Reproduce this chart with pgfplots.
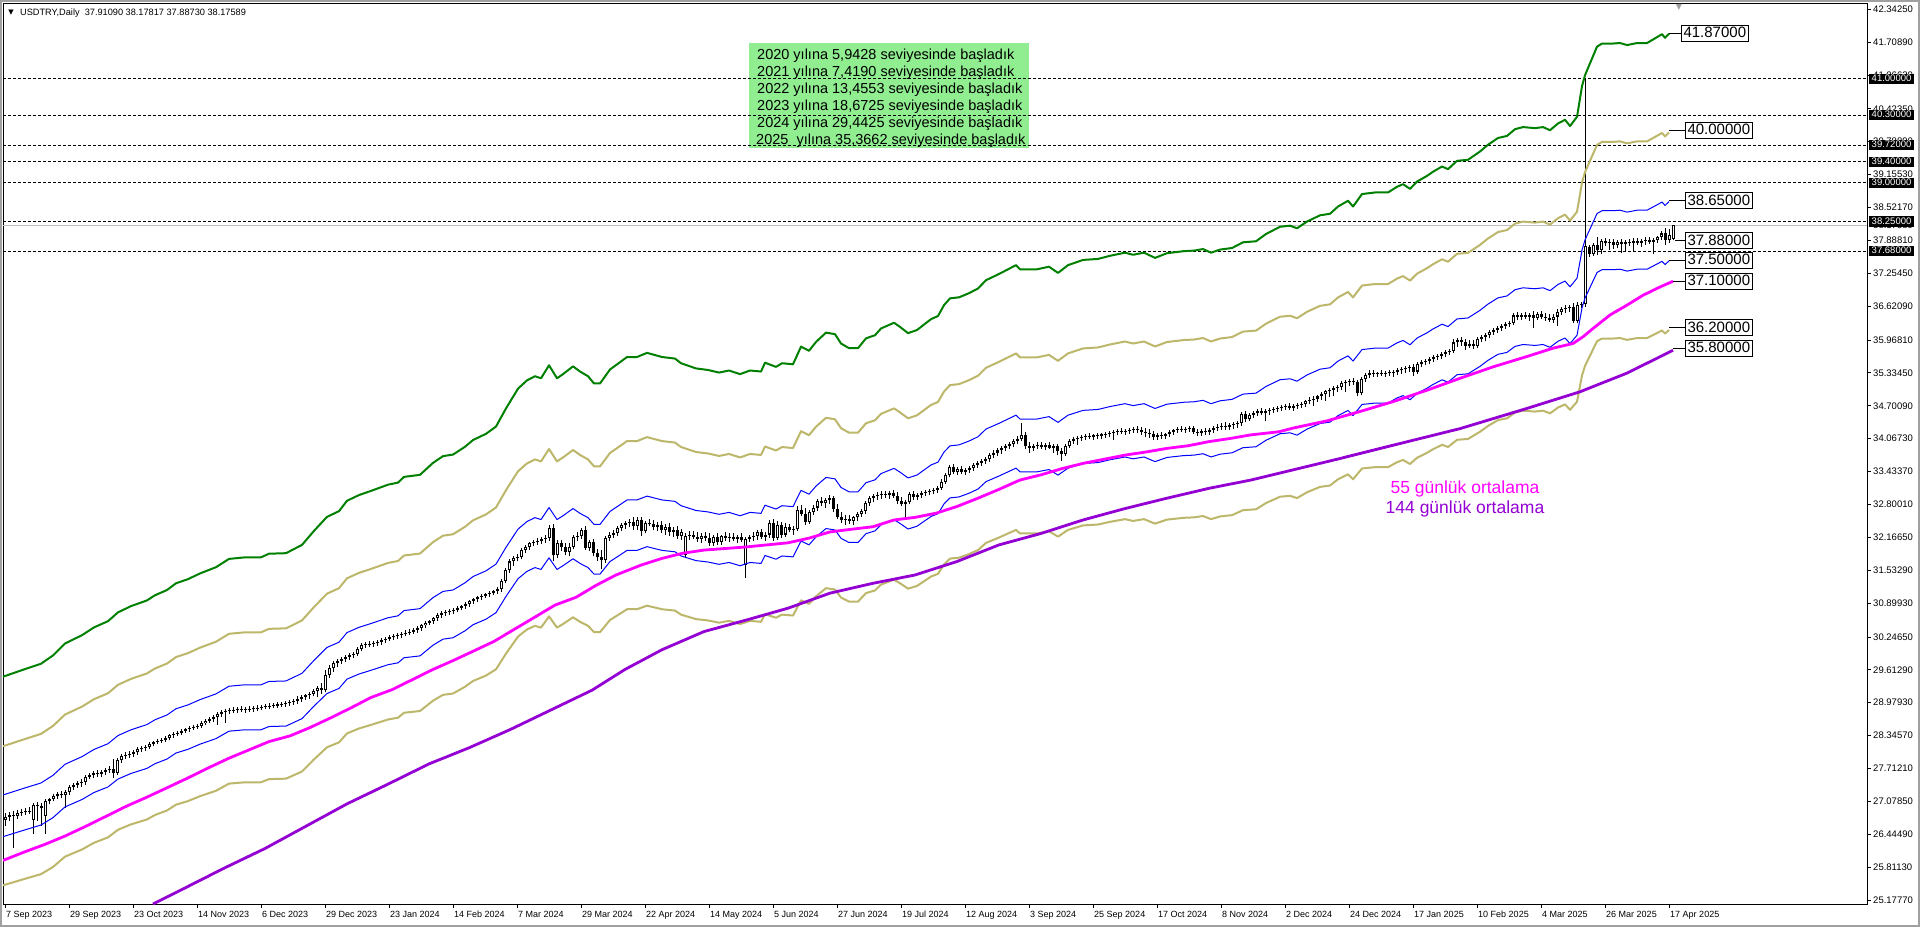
\documentclass[border=0pt]{standalone}
\usepackage{fontspec}
\setmainfont{Liberation Sans}
\newfontfamily\dejavu{DejaVu Sans}
\usepackage{pgfplots}
\usepackage{pgfplotstable}
\pgfplotsset{compat=1.18}

\definecolor{mtgreen}{RGB}{0,128,0}
\definecolor{mtkhaki}{RGB}{189,183,107}
\definecolor{mtviolet}{RGB}{148,0,211}
\definecolor{mtmagenta}{RGB}{255,0,255}
\definecolor{notegreen}{RGB}{144,238,144}
\definecolor{framegray}{RGB}{160,160,160}
\definecolor{bidgray}{RGB}{192,192,192}

% daily candles: bar index, open, high, low, close
\pgfplotstableread{
i o h l c
0 26.72 26.86 26.60 26.78
1 26.78 26.88 26.70 26.82
2 26.82 26.90 26.18 26.80
3 26.80 26.92 26.74 26.86
4 26.86 26.93 26.80 26.87
5 26.87 26.95 26.82 26.90
6 26.90 26.96 26.84 26.88
7 26.72 27.05 26.45 27.00
8 27.00 27.06 26.70 26.98
9 26.98 27.05 26.60 26.95
10 26.80 27.12 26.45 27.08
11 27.08 27.15 27.02 27.12
12 27.12 27.22 27.08 27.18
13 27.18 27.26 27.12 27.22
14 27.22 27.28 27.15 27.20
15 27.20 27.30 26.95 27.25
16 27.25 27.40 27.20 27.36
17 27.36 27.44 27.30 27.40
18 27.40 27.47 27.34 27.43
19 27.43 27.50 27.36 27.45
20 27.45 27.58 27.40 27.55
21 27.55 27.62 27.50 27.58
22 27.58 27.66 27.52 27.62
23 27.62 27.68 27.55 27.60
24 27.60 27.68 27.54 27.64
25 27.64 27.72 27.58 27.68
26 27.68 27.75 27.62 27.70
27 27.70 27.90 27.52 27.62
28 27.62 27.92 27.58 27.88
29 27.88 28.00 27.82 27.95
30 27.95 28.02 27.90 27.98
31 27.98 28.04 27.92 28.00
32 28.00 28.06 27.94 28.02
33 28.02 28.12 27.98 28.08
34 28.08 28.14 28.03 28.10
35 28.10 28.16 28.05 28.12
36 28.12 28.22 28.08 28.18
37 28.18 28.25 28.14 28.22
38 28.22 28.28 28.18 28.24
39 28.24 28.30 28.20 28.26
40 28.26 28.34 28.22 28.30
41 28.30 28.38 28.26 28.35
42 28.35 28.42 28.30 28.38
43 28.38 28.44 28.34 28.40
44 28.40 28.47 28.36 28.44
45 28.44 28.50 28.40 28.47
46 28.47 28.53 28.42 28.49
47 28.49 28.55 28.45 28.51
48 28.51 28.57 28.47 28.53
49 28.53 28.62 28.49 28.58
50 28.58 28.66 28.54 28.63
51 28.63 28.70 28.58 28.66
52 28.66 28.74 28.60 28.70
53 28.70 28.80 28.55 28.76
54 28.76 28.84 28.70 28.80
55 28.80 28.86 28.58 28.82
56 28.82 28.88 28.76 28.83
57 28.83 28.89 28.78 28.84
58 28.84 28.90 28.79 28.85
59 28.85 28.91 28.80 28.84
60 28.84 28.90 28.78 28.86
61 28.86 28.92 28.80 28.85
62 28.85 28.91 28.80 28.87
63 28.87 28.93 28.82 28.88
64 28.88 28.94 28.83 28.90
65 28.90 28.96 28.85 28.91
66 28.91 28.97 28.86 28.92
67 28.92 28.98 28.87 28.93
68 28.93 28.99 28.88 28.94
69 28.94 29.00 28.89 28.96
70 28.96 29.02 28.90 28.98
71 28.98 29.04 28.92 29.00
72 29.00 29.06 28.94 29.02
73 29.02 29.10 28.96 29.06
74 29.06 29.12 29.00 29.09
75 29.09 29.15 29.03 29.12
76 29.12 29.18 29.06 29.15
77 29.15 29.24 29.10 29.20
78 29.20 29.30 29.08 29.27
79 29.27 29.35 29.15 29.22
80 29.22 29.60 29.18 29.52
81 29.52 29.70 29.45 29.64
82 29.64 29.78 29.58 29.75
83 29.75 29.82 29.66 29.79
84 29.79 29.86 29.72 29.82
85 29.82 29.90 29.76 29.86
86 29.86 29.93 29.80 29.89
87 29.89 29.96 29.84 29.92
88 29.92 30.05 29.88 30.02
89 30.02 30.12 29.98 30.09
90 30.09 30.15 30.04 30.10
91 30.10 30.16 30.05 30.11
92 30.11 30.17 30.06 30.12
93 30.12 30.19 30.07 30.15
94 30.15 30.22 30.10 30.18
95 30.18 30.25 30.13 30.21
96 30.21 30.28 30.16 30.24
97 30.24 30.30 30.19 30.26
98 30.26 30.33 30.21 30.28
99 30.28 30.35 30.23 30.31
100 30.31 30.38 30.26 30.33
101 30.33 30.40 30.28 30.35
102 30.35 30.42 30.30 30.38
103 30.38 30.46 30.33 30.42
104 30.42 30.50 30.37 30.47
105 30.47 30.55 30.42 30.52
106 30.52 30.58 30.47 30.55
107 30.55 30.64 30.50 30.61
108 30.61 30.70 30.56 30.67
109 30.67 30.74 30.62 30.70
110 30.70 30.76 30.65 30.72
111 30.72 30.78 30.67 30.74
112 30.74 30.80 30.69 30.77
113 30.77 30.84 30.72 30.81
114 30.81 30.87 30.76 30.84
115 30.84 30.91 30.79 30.88
116 30.88 30.96 30.83 30.93
117 30.93 31.00 30.88 30.97
118 30.97 31.04 30.92 31.01
119 31.01 31.08 30.96 31.04
120 31.04 31.10 30.99 31.07
121 31.07 31.13 31.02 31.10
122 31.10 31.16 31.05 31.13
123 31.13 31.20 31.08 31.17
124 31.17 31.36 31.12 31.32
125 31.32 31.58 31.28 31.54
126 31.54 31.74 31.48 31.70
127 31.70 31.80 31.62 31.76
128 31.76 31.84 31.70 31.79
129 31.79 31.96 31.74 31.92
130 31.92 32.02 31.86 31.98
131 31.98 32.08 31.92 32.05
132 32.05 32.12 32.00 32.08
133 32.08 32.15 32.02 32.10
134 32.10 32.18 32.04 32.14
135 32.14 32.22 32.06 32.16
136 32.16 32.40 32.10 32.34
137 32.34 32.42 31.70 31.82
138 31.82 32.12 31.76 32.05
139 32.05 32.12 31.90 31.98
140 31.98 32.06 31.82 31.88
141 31.88 32.05 31.80 31.98
142 31.98 32.22 31.94 32.18
143 32.18 32.26 32.10 32.20
144 32.20 32.35 32.14 32.30
145 32.30 32.38 31.92 31.96
146 31.96 32.12 31.90 32.08
147 32.08 32.14 31.80 31.86
148 31.86 31.95 31.70 31.78
149 31.78 31.92 31.55 31.72
150 31.72 32.20 31.68 32.16
151 32.16 32.26 32.10 32.22
152 32.22 32.30 32.16 32.25
153 32.25 32.38 32.20 32.35
154 32.35 32.44 32.28 32.40
155 32.40 32.48 32.32 32.44
156 32.44 32.52 32.36 32.46
157 32.46 32.55 32.30 32.38
158 32.38 32.55 32.30 32.50
159 32.50 32.56 32.20 32.28
160 32.28 32.48 32.24 32.45
161 32.45 32.52 32.38 32.42
162 32.42 32.50 32.30 32.36
163 32.36 32.46 32.28 32.40
164 32.40 32.48 32.24 32.30
165 32.30 32.42 32.22 32.36
166 32.36 32.44 32.20 32.26
167 32.26 32.36 32.18 32.30
168 32.30 32.38 32.14 32.20
169 32.20 32.32 32.12 32.26
170 31.82 32.24 31.76 32.20
171 32.20 32.28 32.12 32.22
172 32.22 32.28 32.14 32.18
173 32.18 32.26 32.08 32.14
174 32.14 32.24 32.06 32.20
175 32.20 32.26 32.10 32.16
176 32.16 32.24 32.00 32.06
177 32.06 32.22 32.00 32.18
178 32.18 32.24 32.02 32.08
179 32.08 32.22 32.02 32.20
180 32.20 32.26 32.10 32.16
181 32.16 32.24 32.08 32.18
182 32.18 32.24 32.10 32.14
183 32.14 32.22 32.06 32.18
184 32.18 32.24 32.08 32.12
185 31.64 32.18 31.38 32.14
186 32.14 32.22 32.08 32.18
187 32.18 32.26 32.10 32.20
188 32.20 32.30 32.12 32.26
189 32.26 32.32 32.14 32.18
190 32.18 32.26 32.10 32.22
191 32.22 32.50 32.16 32.44
192 32.44 32.52 32.10 32.16
193 32.16 32.48 32.12 32.40
194 32.40 32.46 32.16 32.22
195 32.22 32.44 32.18 32.36
196 32.36 32.42 32.26 32.30
197 32.30 32.38 32.22 32.32
198 32.32 32.76 32.28 32.70
199 32.70 32.78 32.58 32.62
200 32.62 32.74 32.40 32.46
201 32.46 32.70 32.42 32.66
202 32.66 32.78 32.60 32.74
203 32.74 32.90 32.68 32.86
204 32.86 32.94 32.76 32.82
205 32.82 32.92 32.74 32.88
206 32.88 32.98 32.80 32.92
207 32.92 32.96 32.66 32.72
208 32.72 32.80 32.52 32.56
209 32.56 32.66 32.44 32.50
210 32.50 32.60 32.40 32.52
211 32.52 32.60 32.42 32.48
212 32.48 32.58 32.40 32.55
213 32.55 32.66 32.48 32.62
214 32.62 32.72 32.56 32.68
215 32.68 32.86 32.62 32.82
216 32.82 32.96 32.76 32.92
217 32.92 33.00 32.84 32.96
218 32.96 33.04 32.88 32.98
219 32.98 33.06 32.90 33.00
220 33.00 33.06 32.92 32.98
221 32.98 33.06 32.90 33.02
222 33.02 33.08 32.92 32.96
223 32.96 33.04 32.80 32.86
224 32.86 32.94 32.76 32.80
225 32.80 32.88 32.56 32.84
226 32.84 33.04 32.80 33.00
227 33.00 33.06 32.88 32.94
228 32.94 33.02 32.88 32.98
229 32.98 33.06 32.92 33.02
230 33.02 33.08 32.96 33.04
231 33.04 33.10 32.98 33.06
232 33.06 33.12 33.00 33.08
233 33.08 33.16 33.02 33.12
234 33.12 33.28 33.08 33.24
235 33.24 33.40 33.20 33.36
236 33.36 33.56 33.32 33.52
237 33.52 33.58 33.38 33.42
238 33.42 33.52 33.36 33.48
239 33.48 33.54 33.38 33.42
240 33.42 33.50 33.36 33.46
241 33.46 33.54 33.40 33.50
242 33.50 33.60 33.44 33.56
243 33.56 33.64 33.50 33.60
244 33.60 33.68 33.54 33.64
245 33.64 33.72 33.58 33.68
246 33.68 33.80 33.62 33.76
247 33.76 33.84 33.70 33.80
248 33.80 33.88 33.74 33.84
249 33.84 33.92 33.78 33.88
250 33.88 33.96 33.82 33.92
251 33.92 34.00 33.86 33.96
252 33.96 34.06 33.90 34.02
253 34.02 34.12 33.96 34.06
254 34.06 34.37 34.02 34.14
255 34.14 34.20 33.86 33.92
256 33.92 34.00 33.80 33.88
257 33.88 33.96 33.82 33.92
258 33.92 34.00 33.86 33.94
259 33.94 34.00 33.86 33.90
260 33.90 33.98 33.84 33.94
261 33.94 34.00 33.86 33.88
262 33.88 33.96 33.80 33.92
263 33.92 33.96 33.76 33.82
264 33.82 33.88 33.64 33.78
265 33.78 33.96 33.74 33.92
266 33.92 34.06 33.88 34.02
267 34.02 34.10 33.96 34.06
268 34.06 34.12 33.94 34.08
269 34.08 34.14 34.02 34.10
270 34.10 34.16 34.04 34.12
271 34.12 34.18 34.06 34.10
272 34.10 34.16 34.04 34.13
273 34.13 34.18 34.06 34.12
274 34.12 34.18 34.06 34.15
275 34.15 34.20 34.08 34.16
276 34.16 34.22 34.10 34.18
277 34.18 34.24 34.04 34.20
278 34.20 34.26 34.14 34.22
279 34.22 34.28 34.16 34.20
280 34.20 34.26 34.14 34.22
281 34.22 34.28 34.16 34.24
282 34.24 34.30 34.18 34.26
283 34.26 34.32 34.18 34.24
284 34.24 34.30 34.14 34.20
285 34.20 34.28 34.10 34.18
286 34.18 34.26 34.08 34.16
287 34.16 34.22 34.04 34.10
288 34.10 34.18 34.04 34.14
289 34.14 34.20 34.06 34.12
290 34.12 34.18 34.06 34.16
291 34.16 34.24 34.10 34.20
292 34.20 34.26 34.14 34.24
293 34.24 34.30 34.18 34.26
294 34.26 34.32 34.20 34.24
295 34.24 34.30 34.18 34.26
296 34.26 34.32 34.20 34.28
297 34.28 34.32 34.16 34.20
298 34.20 34.26 34.12 34.18
299 34.18 34.26 34.12 34.22
300 34.22 34.28 34.14 34.20
301 34.20 34.28 34.14 34.24
302 34.24 34.32 34.18 34.28
303 34.28 34.34 34.22 34.30
304 34.30 34.36 34.24 34.32
305 34.32 34.38 34.24 34.30
306 34.30 34.36 34.24 34.33
307 34.33 34.38 34.26 34.34
308 34.34 34.40 34.28 34.36
309 34.36 34.58 34.32 34.54
310 34.54 34.60 34.38 34.44
311 34.44 34.56 34.40 34.52
312 34.52 34.60 34.46 34.56
313 34.56 34.64 34.50 34.60
314 34.60 34.66 34.52 34.56
315 34.56 34.64 34.40 34.60
316 34.60 34.66 34.52 34.62
317 34.62 34.68 34.56 34.64
318 34.64 34.70 34.58 34.66
319 34.66 34.72 34.60 34.68
320 34.68 34.74 34.62 34.70
321 34.70 34.76 34.62 34.66
322 34.66 34.74 34.60 34.70
323 34.70 34.76 34.64 34.72
324 34.72 34.78 34.66 34.74
325 34.74 34.82 34.68 34.80
326 34.80 34.86 34.74 34.82
327 34.82 34.88 34.70 34.84
328 34.84 34.90 34.78 34.88
329 34.88 34.96 34.82 34.92
330 34.92 35.00 34.80 34.98
331 34.98 35.04 34.86 35.00
332 35.00 35.08 34.88 35.04
333 35.04 35.10 34.96 35.06
334 35.06 35.18 35.00 35.14
335 35.14 35.20 34.96 35.16
336 35.16 35.22 35.08 35.18
337 35.18 35.24 35.10 35.16
338 35.16 35.20 34.88 34.94
339 34.94 35.26 34.90 35.22
340 35.22 35.34 35.16 35.30
341 35.30 35.38 35.24 35.34
342 35.34 35.38 35.26 35.32
343 35.32 35.36 35.26 35.33
344 35.33 35.38 35.27 35.32
345 35.32 35.37 35.26 35.34
346 35.34 35.38 35.28 35.33
347 35.33 35.38 35.26 35.35
348 35.35 35.42 35.30 35.38
349 35.38 35.44 35.32 35.40
350 35.40 35.46 35.34 35.42
351 35.42 35.48 35.36 35.44
352 35.44 35.50 35.28 35.36
353 35.36 35.54 35.32 35.50
354 35.50 35.58 35.44 35.54
355 35.54 35.60 35.48 35.56
356 35.56 35.64 35.50 35.60
357 35.60 35.68 35.54 35.64
358 35.64 35.70 35.58 35.66
359 35.66 35.74 35.60 35.70
360 35.70 35.78 35.64 35.74
361 35.74 35.80 35.68 35.76
362 35.76 35.98 35.72 35.92
363 35.92 36.00 35.84 35.96
364 35.96 36.02 35.86 35.92
365 35.92 35.98 35.78 35.86
366 35.86 35.96 35.82 35.90
367 35.90 35.96 35.80 35.86
368 35.86 36.02 35.82 35.98
369 35.98 36.06 35.92 36.02
370 36.02 36.10 35.94 36.06
371 36.06 36.16 36.00 36.12
372 36.12 36.20 36.06 36.16
373 36.16 36.24 36.10 36.20
374 36.20 36.28 36.14 36.24
375 36.24 36.32 36.18 36.28
376 36.28 36.34 36.22 36.30
377 36.30 36.48 36.26 36.44
378 36.44 36.50 36.36 36.42
379 36.42 36.48 36.36 36.44
380 36.44 36.50 36.38 36.42
381 36.42 36.48 36.34 36.44
382 36.44 36.52 36.20 36.40
383 36.40 36.50 36.36 36.46
384 36.46 36.52 36.38 36.42
385 36.42 36.48 36.34 36.40
386 36.40 36.46 36.32 36.36
387 36.36 36.46 36.30 36.42
388 36.42 36.56 36.24 36.50
389 36.50 36.60 36.44 36.56
390 36.56 36.64 36.48 36.58
391 36.58 36.64 36.50 36.60
392 36.60 36.68 36.30 36.34
393 36.34 36.70 36.30 36.64
394 36.64 36.70 36.58 36.66
395 36.66 41.00 36.60 37.78
396 37.76 37.80 37.56 37.62
397 37.62 37.84 37.58 37.80
398 37.80 37.96 37.60 37.70
399 37.70 37.92 37.62 37.88
400 37.88 37.94 37.78 37.84
401 37.84 37.92 37.70 37.86
402 37.86 37.92 37.72 37.80
403 37.80 37.90 37.74 37.86
404 37.86 37.92 37.64 37.82
405 37.82 37.90 37.68 37.86
406 37.86 37.92 37.78 37.84
407 37.84 37.94 37.66 37.88
408 37.88 37.94 37.80 37.84
409 37.84 37.92 37.76 37.88
410 37.88 37.96 37.80 37.90
411 37.90 37.96 37.82 37.86
412 37.86 37.94 37.62 37.90
413 37.90 37.98 37.84 37.96
414 37.96 38.06 37.90 38.02
415 38.02 38.12 37.80 37.90
416 37.90 38.10 37.84 38.00
417 37.9109 38.17817 37.8873 38.17589
}\candles

% upper envelope (+10%) as read; the other bands are the same average at +5/-5 and +1.5/-1.5 %
\pgfplotstableread{
i g
-0.5 29.48
4.75 29.62
9 29.73
12 29.89
15 30.12
19.25 30.28
22.25 30.43
25.75 30.55
28.25 30.72
31.5 30.84
35.5 30.95
37.5 31.05
40.5 31.15
42.75 31.28
45.75 31.36
48.75 31.47
52.75 31.59
56 31.75
60 31.78
64 31.78
66 31.85
70.25 31.86
74.25 32.02
77.25 32.29
80.5 32.56
83.5 32.67
85.5 32.87
88.5 32.98
91.5 33.06
95.75 33.18
98.25 33.22
99.75 33.33
103.75 33.37
107 33.60
109.5 33.73
112 33.76
115 33.91
117 34.04
120.25 34.16
122.75 34.30
125.25 34.65
128.25 35.03
130.5 35.19
132.5 35.27
134 35.23
136 35.48
138 35.23
139.5 35.31
142 35.46
143.75 35.36
145.75 35.27
147.25 35.13
148.75 35.13
151.25 35.40
153.75 35.54
155.5 35.64
158 35.64
160.5 35.72
164.25 35.64
167.5 35.61
169 35.52
172.75 35.42
175.75 35.39
178.5 35.34
181 35.38
183.75 35.31
186.25 35.38
189 35.36
190 35.53
192.75 35.45
194.25 35.52
197 35.50
199 35.84
201 35.76
202.75 35.93
205.25 36.11
207.5 36.08
209 35.90
211 35.81
213.25 35.81
215.25 36.00
217.5 36.06
219 36.19
222.25 36.30
223.75 36.22
225.75 36.10
228 36.16
231.5 36.37
233.25 36.43
234.75 36.64
236.25 36.77
238.5 36.79
241 36.87
243.25 36.96
245.25 37.12
248.5 37.24
252.75 37.41
253.75 37.33
258 37.33
261 37.38
263.25 37.26
265.75 37.41
269.5 37.51
273.25 37.53
276.25 37.59
280 37.65
282 37.61
284.75 37.65
287.5 37.55
290.5 37.64
294.75 37.68
297.25 37.69
299.5 37.72
301.5 37.65
303.75 37.71
306.75 37.74
309.5 37.85
312.75 37.87
315.25 38.01
318.75 38.15
321.25 38.17
323 38.12
325.5 38.25
328.75 38.37
331.25 38.40
333.25 38.54
335.75 38.65
337 38.54
339.25 38.78
342.5 38.81
345.75 38.81
348 38.92
349.5 38.97
351.25 38.88
353 39.02
355.5 39.13
357 39.21
359.25 39.31
360.75 39.26
363 39.42
365.75 39.44
368.75 39.60
370.75 39.73
373.25 39.86
375.5 39.90
377.5 40.03
379.5 40.07
382.5 40.05
384.5 40.07
386.25 40.01
388.25 40.14
390 40.21
391.25 40.09
393 40.27
394.25 40.86
395 41.07
396.25 41.30
398 41.62
399.25 41.68
402 41.68
403.75 41.69
405.5 41.65
408 41.69
410.5 41.69
412.5 41.78
414.25 41.86
415 41.79
416 41.87
}\envelope

% 55-day average
\pgfplotstableread{
i m
-0.5 25.94
4.75 26.10
10 26.25
15 26.41
20.25 26.60
25.25 26.79
30.5 26.99
35.5 27.16
40.5 27.34
45.75 27.53
50.75 27.72
56 27.91
61 28.07
66 28.23
71.25 28.34
76.25 28.50
81.5 28.69
86.5 28.88
91.5 29.08
96.75 29.23
101.75 29.42
107 29.62
112 29.79
117 29.97
122.25 30.16
127.25 30.39
132.5 30.63
137.5 30.86
142.75 31.01
147.75 31.24
152.75 31.44
159 31.63
164.25 31.76
169.5 31.86
174.75 31.92
180 31.95
185.25 31.98
190.5 32.02
195.75 32.06
201 32.15
206.25 32.27
211.5 32.32
217 32.37
222.25 32.50
227.5 32.55
232.75 32.63
238 32.76
243.25 32.92
248.5 33.09
253.75 33.27
259 33.37
264.25 33.49
269.5 33.59
274.75 33.67
280 33.75
285.25 33.81
290.5 33.88
295.75 33.93
301 34.01
306.25 34.07
311.5 34.14
318.5 34.20
322 34.27
330.5 34.41
338.75 34.59
347 34.78
355.5 35.00
363.75 35.23
372 35.45
380.5 35.65
387 35.81
392 35.90
394.5 36.03
397 36.19
401.25 36.45
405.5 36.64
409.5 36.83
413.75 36.99
417 37.10
}\maFast

% 144-day average
\pgfplotstableread{
i m
37 25.10
44.75 25.40
54.75 25.79
65 26.17
75.25 26.60
85.5 27.03
95.75 27.41
106 27.80
116 28.11
126.25 28.46
136.5 28.84
146.75 29.22
155 29.62
164.25 30.00
174.75 30.35
185.25 30.57
195.75 30.80
206.25 31.09
217 31.28
227.5 31.44
238 31.70
248.5 32.02
259 32.24
269.5 32.50
280 32.72
290.5 32.92
301 33.11
311.5 33.27
318.5 33.40
333 33.67
347 33.94
363.75 34.26
380.5 34.65
393.75 34.97
397 35.07
405.5 35.33
417 35.77
}\maSlow

% candle segments collected into three jump-separated paths (wicks, bodies, hollow insides)
\def\wickpts{}
\def\bodypts{}
\def\hollowpts{}
\pgfplotstablegetrowsof{\candles}
\pgfmathtruncatemacro\lastrow{\pgfplotsretval-1}
\pgfplotsforeachungrouped \r in {0,...,\lastrow}{%
  \pgfplotstablegetelem{\r}{i}\of\candles\let\ci\pgfplotsretval
  \pgfplotstablegetelem{\r}{o}\of\candles\let\co\pgfplotsretval
  \pgfplotstablegetelem{\r}{h}\of\candles\let\ch\pgfplotsretval
  \pgfplotstablegetelem{\r}{l}\of\candles\let\cl\pgfplotsretval
  \pgfplotstablegetelem{\r}{c}\of\candles\let\cc\pgfplotsretval
  \edef\wickpts{\wickpts (\ci,\cl) (\ci,\ch) (\ci,nan)}%
  \pgfmathsetmacro\bmid{(\co+\cc)/2}%
  \pgfmathsetmacro\bhalf{max(abs(\cc-\co)/2,0.01)}%
  \pgfmathsetmacro\blo{\bmid-\bhalf}%
  \pgfmathsetmacro\bhi{\bmid+\bhalf}%
  \edef\bodypts{\bodypts (\ci,\blo) (\ci,\bhi) (\ci,nan)}%
  \pgfmathtruncatemacro\isbull{(\cc-\co)>0.045}%
  \ifnum\isbull=1
    \pgfmathsetmacro\hlo{\co+0.02}%
    \pgfmathsetmacro\hhi{\cc-0.02}%
    \edef\hollowpts{\hollowpts (\ci,\hlo) (\ci,\hhi) (\ci,nan)}%
  \fi
}

\pgfplotsset{
  hline/.style={black, line width=1bp, dash pattern=on 3bp off 2bp, forget plot},
  conn/.style={black, line width=1bp, forget plot},
}
\tikzset{
  hlbox/.style={fill=black, text=white, anchor=west, inner xsep=2.5bp, inner ysep=0.6bp,
    text height=7.2bp, text depth=1.8bp, font=\fontsize{9.5bp}{10bp}\selectfont},
  pricebox/.style={draw=black, line width=1bp, fill=white, anchor=west, inner xsep=2bp,
    inner ysep=1.2bp, text height=11bp, text depth=2.5bp, font=\fontsize{15bp}{16bp}\selectfont},
  noteline/.style={anchor=west, inner sep=0pt, font=\fontsize{14.5bp}{17bp}\selectfont},
}

\begin{document}
\begin{tikzpicture}
\useasboundingbox (0,0) rectangle (1920bp,927bp);
\fill[white] (0,0) rectangle (1920bp,927bp);
\draw[framegray, line width=2bp] (1bp,1bp) rectangle (1919bp,926bp);

% note box
\fill[notegreen] (749bp,779bp) rectangle (1029bp,884bp);
\node[noteline] at (757bp,871bp) {2020 yılına 5,9428 seviyesinde başladık};
\node[noteline] at (757bp,854bp) {2021 yılına 7,4190 seviyesinde başladık};
\node[noteline] at (757bp,837bp) {2022 yılına 13,4553 seviyesinde başladık};
\node[noteline] at (757bp,820bp) {2023 yılına 18,6725 seviyesinde başladık};
\node[noteline] at (757bp,803bp) {2024 yılına 29,4425 seviyesinde başladık};
\node[noteline] at (756bp,786bp) {2025\ \ yılına 35,3662 seviyesinde başladık};

\begin{axis}[
  at={(3bp,23bp)}, anchor=south west,
  scale only axis, width=1864bp, height=900bp,
  xmin=-0.5, xmax=465.5, ymin=25.1006, ymax=42.4418,
  axis line style={black, line width=1bp},
  clip mode=individual,
  tick align=outside, major tick length=4bp,
  tick style={black, line width=0.8bp},
  xtick pos=bottom, ytick pos=right, yticklabel pos=right,
  xtick={0,16,...,416},
  xticklabels={7 Sep 2023,29 Sep 2023,23 Oct 2023,14 Nov 2023,6 Dec 2023,29 Dec 2023,23 Jan 2024,14 Feb 2024,7 Mar 2024,29 Mar 2024,22 Apr 2024,14 May 2024,5 Jun 2024,27 Jun 2024,19 Jul 2024,12 Aug 2024,3 Sep 2024,25 Sep 2024,17 Oct 2024,8 Nov 2024,2 Dec 2024,24 Dec 2024,17 Jan 2025,10 Feb 2025,4 Mar 2025,26 Mar 2025,17 Apr 2025},
  ytick={25.1777,25.8113,26.4449,27.0785,27.7121,28.3457,28.9793,29.6129,30.2465,30.8993,31.5329,32.1665,32.8001,33.4337,34.0673,34.7009,35.3345,35.9681,36.6209,37.2545,37.8881,38.5217,39.1553,39.7889,40.4235,41.0662,41.7089,42.3425},
  yticklabels={25.17770,25.81130,26.44490,27.07850,27.71210,28.34570,28.97930,29.61290,30.24650,30.89930,31.53290,32.16650,32.80010,33.43370,34.06730,34.70090,35.33450,35.96810,36.62090,37.25450,37.88810,38.52170,39.15530,39.78890,40.42350,41.06620,41.70890,42.34250},
  xticklabel style={anchor=north west, inner sep=0pt, xshift=1bp, yshift=-3bp, font=\fontsize{9bp}{10bp}\selectfont},
  yticklabel style={anchor=west, inner sep=0pt, xshift=2bp, font=\fontsize{9.5bp}{10bp}\selectfont},
]

% horizontal levels and bid line
\addplot[hline] coordinates {(-0.5,41.00) (465.5,41.00)};
\addplot[hline] coordinates {(-0.5,40.30) (465.5,40.30)};
\addplot[hline] coordinates {(-0.5,39.72) (465.5,39.72)};
\addplot[hline] coordinates {(-0.5,39.40) (465.5,39.40)};
\addplot[hline] coordinates {(-0.5,39.00) (465.5,39.00)};
\addplot[hline] coordinates {(-0.5,38.25) (465.5,38.25)};
\addplot[hline] coordinates {(-0.5,37.68) (465.5,37.68)};
\addplot[bidgray, line width=1bp, forget plot] coordinates {(-0.5,38.17589) (465.5,38.17589)};

% candles
\edef\plotcmd{\noexpand\addplot[black, line width=1bp, unbounded coords=jump, forget plot] coordinates {\wickpts};}\plotcmd
\edef\plotcmd{\noexpand\addplot[black, line width=3bp, unbounded coords=jump, forget plot] coordinates {\bodypts};}\plotcmd
\edef\plotcmd{\noexpand\addplot[white, line width=1bp, unbounded coords=jump, forget plot] coordinates {\hollowpts};}\plotcmd

% envelopes
\addplot[mtgreen, line width=2bp, line join=round, no marks] table[x=i, y=g] {\envelope};
\addplot[mtkhaki, line width=2bp, line join=round, no marks] table[x=i, y expr={\thisrow{g}*1.05/1.1}] {\envelope};
\addplot[mtkhaki, line width=2bp, line join=round, no marks] table[x=i, y expr={\thisrow{g}*0.95/1.1}] {\envelope};
\addplot[blue, line width=1bp, line join=round, no marks] table[x=i, y expr={\thisrow{g}*1.015/1.1}] {\envelope};
\addplot[blue, line width=1bp, line join=round, no marks] table[x=i, y expr={\thisrow{g}*0.985/1.1}] {\envelope};

% moving averages
\addplot[mtmagenta, line width=2.8bp, line join=round, no marks] table[x=i, y=m] {\maFast};
\addplot[mtviolet, line width=2.8bp, line join=round, no marks] table[x=i, y=m] {\maSlow};

% connectors to the value boxes
\addplot[conn] coordinates {(416,41.87) (419,41.87)};
\addplot[conn] coordinates {(416,40.00) (420,40.00)};
\addplot[conn] coordinates {(416,38.65) (420,38.65)};
\addplot[conn] coordinates {(417.5,37.88) (420,37.88)};
\addplot[conn] coordinates {(416,37.50) (420,37.50)};
\addplot[conn] coordinates {(417,37.10) (420,37.10)};
\addplot[conn] coordinates {(416,36.20) (420,36.20)};
\addplot[conn] coordinates {(417,35.80) (420,35.80)};

\node[pricebox] at (axis cs:419,41.87) {41.87000};
\node[pricebox] at (axis cs:420,40.00) {40.00000};
\node[pricebox] at (axis cs:420,38.65) {38.65000};
\node[pricebox] at (axis cs:420,37.88) {37.88000};
\node[pricebox] at (axis cs:420,37.50) {37.50000};
\node[pricebox] at (axis cs:420,37.10) {37.10000};
\node[pricebox] at (axis cs:420,36.20) {36.20000};
\node[pricebox] at (axis cs:420,35.80) {35.80000};

% labels of the levels on the price scale
\node[anchor=west, inner sep=0pt, xshift=6bp, font=\fontsize{9.5bp}{10bp}\selectfont] at (axis cs:465.5,38.17589) {38.17589};
\node[hlbox, xshift=2bp] at (axis cs:465.5,41.00) {41.00000};
\node[hlbox, xshift=2bp] at (axis cs:465.5,40.30) {40.30000};
\node[hlbox, xshift=2bp] at (axis cs:465.5,39.72) {39.72000};
\node[hlbox, xshift=2bp] at (axis cs:465.5,39.40) {39.40000};
\node[hlbox, xshift=2bp] at (axis cs:465.5,39.00) {39.00000};
\node[hlbox, xshift=2bp] at (axis cs:465.5,38.25) {38.25000};
\node[hlbox, xshift=2bp] at (axis cs:465.5,37.68) {37.68000};
\end{axis}

% title and captions
\node[anchor=center, inner sep=0pt, font=\dejavu\fontsize{7bp}{8bp}\selectfont] at (11bp,914bp) {▼};
\node[anchor=west, inner sep=0pt, font=\fontsize{9.2bp}{10bp}\selectfont] at (20bp,914bp) {USDTRY,Daily\ \ 37.91090 38.17817 37.88730 38.17589};
\node[anchor=center, inner sep=0pt, text=framegray, font=\dejavu\fontsize{8bp}{9bp}\selectfont] at (1679bp,920bp) {▼};
\node[anchor=center, inner sep=0pt, text=mtmagenta, font=\fontsize{17.5bp}{18bp}\selectfont] at (1465bp,438bp) {55 günlük ortalama};
\node[anchor=center, inner sep=0pt, text=mtviolet, font=\fontsize{17.5bp}{18bp}\selectfont] at (1465bp,418bp) {144 günlük ortalama};
\end{tikzpicture}
\end{document}
